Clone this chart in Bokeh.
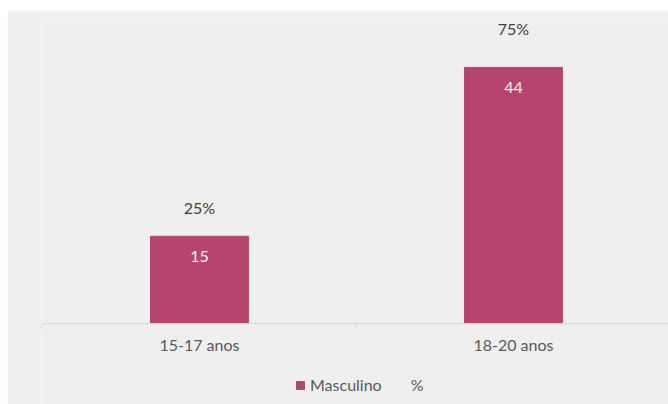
from bokeh.plotting import figure
from bokeh.models import (ColumnDataSource, Range1d, FixedTicker, Legend, LegendItem)
from bokeh.core.properties import value
from bokeh.embed import file_html
from bokeh.resources import INLINE

categories = ["15-17 anos", "18-20 anos"]
masculino = [15, 44]
percent = [25, 75]
percent_labels = ["25%", "75%"]

BG = "#efefef"
BAR = "#b5446e"
FONT = "Lato"

pos = [i + 0.5 for i in range(len(categories))]
src = ColumnDataSource(dict(
    x=pos, cat=categories, m=masculino, m_txt=[str(v) for v in masculino],
    pct=percent, pct_txt=percent_labels))

p = figure(width=661, height=394, output_backend="svg", toolbar_location=None,
           x_range=Range1d(0, 1.994), y_range=Range1d(-13.9, 52.06),
           min_border_left=35, min_border_right=0, min_border_top=10,
           min_border_bottom=0)
p.margin = (10, 0, 0, 7)
p.extra_y_ranges = {"pct": Range1d(-22.6, 84.6)}
p.background_fill_color = BG
p.border_fill_color = BG
p.outline_line_color = None
p.grid.visible = False
p.yaxis.visible = False

bars = p.vbar(x="x", top="m", width=0.312, source=src, fill_color=BAR, line_color=BAR)
pct_bars = p.vbar(x="x", top="pct", width=0.312, source=src, y_range_name="pct",
                  fill_alpha=0, line_alpha=0)

p.text(x="x", y="m", text="m_txt", source=src, text_align="center",
       text_baseline="middle", y_offset=20, text_color="#f4f4f4",
       text_font=value(FONT), text_font_size="16px")
p.text(x="x", y="pct", text="pct_txt", source=src, y_range_name="pct",
       text_align="center", text_baseline="middle", y_offset=-26,
       text_color="#404040", text_font=value(FONT), text_font_size="16px")

ax = p.xaxis[0]
ax.fixed_location = 0
ax.ticker = FixedTicker(ticks=pos, minor_ticks=list(range(len(categories) + 1)))
ax.major_label_overrides = {pos[i]: c for i, c in enumerate(categories)}
ax.axis_line_color = "#d9d9d9"
ax.major_tick_line_color = None
ax.major_tick_out = 0
ax.major_tick_in = 0
ax.minor_tick_line_color = "#d9d9d9"
ax.minor_tick_out = 5
ax.minor_tick_in = 0
ax.major_label_standoff = 6
ax.major_label_text_font = FONT
ax.major_label_text_font_size = "16px"
ax.major_label_text_color = "#595959"

legend = Legend(items=[LegendItem(label="Masculino", renderers=[bars]),
                       LegendItem(label="%", renderers=[pct_bars])],
                orientation="horizontal", location=(253, 10),
                background_fill_alpha=0, border_line_color=None,
                glyph_width=10, glyph_height=10, label_standoff=5, spacing=14,
                label_text_font=FONT, label_text_font_size="16px",
                label_text_color="#595959", margin=0, padding=6)
p.add_layout(legend)

open("out.html", "w").write(file_html(p, INLINE))
